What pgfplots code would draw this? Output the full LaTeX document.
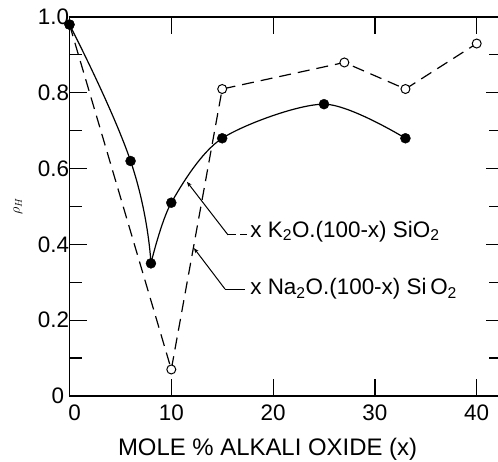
\documentclass[border=0pt]{standalone}
\usepackage{fontspec}
\setmainfont{Liberation Sans}
\usepackage{pgfplots}
\pgfplotsset{compat=1.18}
\usetikzlibrary{arrows.meta}
\begin{document}
\begin{tikzpicture}
\path[use as bounding box] (0,0) rectangle (498bp,462bp);
\begin{axis}[
  at={(69.5bp,66bp)}, anchor=south west,
  scale only axis, width=429.6bp, height=379bp,
  xmin=0, xmax=42.2, ymin=0, ymax=1,
  clip=false,
  axis line style={line width=1.3bp},
  xtick={0,10,20,30,40},
  xticklabels={\hspace*{10bp}0,10,20,30,40},
  ytick={0,0.2,0.4,0.6,0.8,1.0},
  yticklabels={0\hspace*{5bp},0.2,0.4,0.6,0.8,1.0},
  minor ytick={0.1,0.3,0.5,0.7,0.9},
  ytick pos=left,
  major tick length=17bp, minor tick length=12bp,
  tick style={line width=1.2bp, black},
  /pgf/number format/assume math mode=true,
  ticklabel style={font=\fontsize{22.5}{26}\selectfont},
  xticklabel style={yshift=-5bp},
  yticklabel style={xshift=3bp},
  xlabel={MOLE \% ALKALI OXIDE (x)},
  xlabel style={at={(axis description cs:0.461,0)}, anchor=base, yshift=-59bp, font=\fontsize{24}{28}\selectfont},
  ylabel={$\rho_H$},
  ylabel style={at={(axis description cs:-0.12,0.5)}, anchor=center, font=\fontsize{14}{16}\selectfont},
]
\addplot[black, line width=1.2bp, dash pattern=on 12bp off 7bp, mark=*,
  mark options={solid, fill=white, line width=1bp}, mark size=4.5bp]
  coordinates {(0,0.98) (10,0.07) (15,0.81) (27,0.88) (33,0.81) (40,0.93)};
\addplot[black, line width=1.2bp, smooth, tension=0.8, no marks]
  coordinates {(0,0.98) (6,0.62) (8,0.35)};
\addplot[black, line width=1.2bp, smooth, no marks]
  coordinates {(8,0.35) (10,0.51) (15,0.68) (25,0.77) (33,0.68)};
\addplot[only marks, mark=*, mark size=5bp, black]
  coordinates {(0,0.98) (6,0.62) (8,0.35) (10,0.51) (15,0.68) (25,0.77) (33,0.68)};
% leader lines
\draw[line width=1bp, -{Stealth[length=5bp,width=4bp]}] (axis cs:15.57,0.425) -- (axis cs:11.54,0.565);
\draw[line width=1bp] (axis cs:15.57,0.425) -- (axis cs:16.4,0.425);
\draw[line width=1bp] (axis cs:16.75,0.425) -- (axis cs:17.44,0.425);
\node[anchor=base west, inner sep=0, font=\fontsize{22.5}{26}\selectfont] at (axis cs:17.75,0.4195) {x K\textsubscript{2}O.(100-x) SiO\textsubscript{2}};
\draw[line width=1bp, -{Stealth[length=5bp,width=4bp]}] (axis cs:15.28,0.282) -- (axis cs:12.23,0.39);
\draw[line width=1bp] (axis cs:15.28,0.282) -- (axis cs:17.2,0.282);
\node[anchor=base west, inner sep=0, font=\fontsize{22.5}{26}\selectfont] at (axis cs:17.75,0.2665) {x Na\textsubscript{2}O.(100-x) Si\,O\textsubscript{2}};
\end{axis}
\begin{axis}[
  at={(69.5bp,66bp)}, anchor=south west,
  scale only axis, width=429.6bp, height=379bp,
  xmin=0, xmax=42.2, ymin=0, ymax=1,
  axis line style={draw=none},
  xtick=\empty,
  ytick={0.2,0.4,0.6,0.8},
  minor ytick={0.1,0.3,0.5,0.7,0.9},
  yticklabels={},
  ytick pos=right,
  major tick length=13bp, minor tick length=10bp,
  tick style={line width=1.2bp, black},
]
\end{axis}
\end{tikzpicture}
\end{document}
